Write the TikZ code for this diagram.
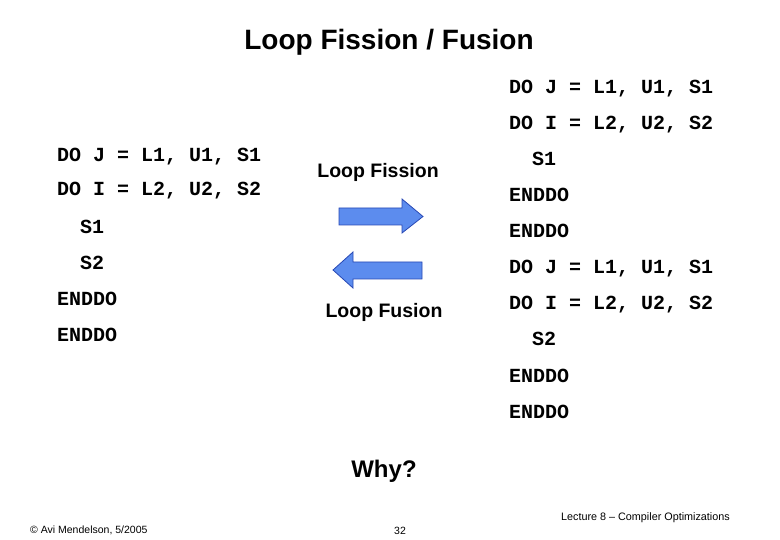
\documentclass[tikz,border=0pt]{standalone}
\usepackage{fontspec}
\setmainfont{Liberation Sans}
\newfontfamily\codefont{Liberation Mono}
\definecolor{arrfill}{RGB}{92,140,238}
\definecolor{arrline}{RGB}{40,72,180}
\begin{document}
\begin{tikzpicture}[x=1pt,y=-1pt,
  code/.style={anchor=base west,inner sep=0pt,font=\codefont\bfseries\fontsize{20}{20}\selectfont},
  lbl/.style={anchor=base,inner sep=0pt,font=\bfseries\fontsize{19.5}{20}\selectfont},
  foot/.style={anchor=base,inner sep=0pt,font=\fontsize{10.5}{10.5}\selectfont},
  bigarrow/.style={fill=arrfill,draw=arrline,line width=0.8pt,line join=miter}]
\useasboundingbox (0,0) rectangle (780,540);
\node[anchor=base,inner sep=0pt,font=\bfseries\fontsize{28}{28}\selectfont] (title) at (389,50) {Loop Fission / Fusion};
% left column
\node[code] (l1) at (57,162) {DO J = L1, U1, S1};
\node[code] (l2) at (57,196) {DO I = L2, U2, S2};
\node[code] (l3) at (80,234) {S1};
\node[code] (l4) at (80,270) {S2};
\node[code] (l5) at (57,306) {ENDDO};
\node[code] (l6) at (57,342) {ENDDO};
% right column
\node[code] (r1) at (509,94) {DO J = L1, U1, S1};
\node[code] (r2) at (509,130) {DO I = L2, U2, S2};
\node[code] (r3) at (532,166) {S1};
\node[code] (r4) at (509,202) {ENDDO};
\node[code] (r5) at (509,238) {ENDDO};
\node[code] (r6) at (509,274) {DO J = L1, U1, S1};
\node[code] (r7) at (509,310) {DO I = L2, U2, S2};
\node[code] (r8) at (532,346) {S2};
\node[code] (r9) at (509,382) {ENDDO};
\node[code] (r10) at (509,418) {ENDDO};
% middle labels
\node[lbl] (fission) at (378,178) {Loop Fission};
\node[lbl] (fusion) at (384,318) {Loop Fusion};
\node[anchor=base,inner sep=0pt,font=\bfseries\fontsize{24}{24}\selectfont] (why) at (384,477) {Why?};
% arrows
\draw[bigarrow] (339,208) -- (402,208) -- (402,199) -- (423,216.5) -- (402,233) -- (402,225) -- (339,225) -- cycle;
\draw[bigarrow] (422,262) -- (353,262) -- (353,252) -- (333,270) -- (353,288) -- (353,279) -- (422,279) -- cycle;
% footer
\node[foot,anchor=base west] (copy) at (30,533) {© Avi Mendelson, 5/2005};
\node[foot] (page) at (400,534) {32};
\node[foot,anchor=base east,font=\fontsize{10.8}{10.8}\selectfont] (lect) at (730,520) {Lecture 8 – Compiler Optimizations};
\end{tikzpicture}
\end{document}
